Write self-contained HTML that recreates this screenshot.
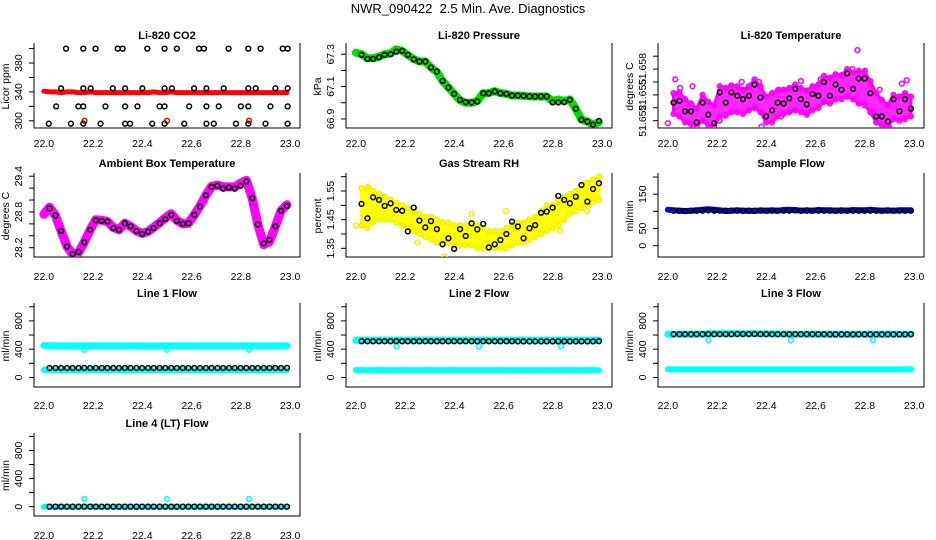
<!DOCTYPE html>
<html><head><meta charset="utf-8"><style>
html,body{margin:0;padding:0;background:#fff;}
svg{display:block;font-family:"Liberation Sans",Arial,sans-serif;}
</style></head><body>
<svg id="chart" width="936" height="540" viewBox="0 0 936 540" xmlns="http://www.w3.org/2000/svg">
<rect x="0" y="0" width="936" height="540" fill="#fff"/>
<text x="468" y="13" text-anchor="middle" font-size="13" xml:space="preserve" style="white-space:pre">NWR_090422  2.5 Min. Ave. Diagnostics</text>
</svg>
<script>
const xTicks=[22.0,22.2,22.4,22.6,22.8,23.0];
const xTickLabels=["22.0","22.2","22.4","22.6","22.8","23.0"];
const blackX=[22.023,22.047,22.070,22.094,22.117,22.141,22.164,22.188,22.211,22.235,22.258,22.282,22.305,22.329,22.352,22.376,22.399,22.423,22.446,22.470,22.493,22.517,22.540,22.564,22.587,22.611,22.634,22.658,22.681,22.705,22.728,22.752,22.775,22.799,22.822,22.846,22.869,22.893,22.916,22.940,22.963,22.987];
const bandX=[22.0].concat(blackX);
const outlierX=[22.165,22.5,22.833];

// CO2
const co2BlackX=[22.09,22.16,22.21,22.30,22.32,22.42,22.49,22.54,22.63,22.65,22.75,22.83,22.88,22.97,22.99,22.07,22.16,22.19,22.28,22.33,22.40,22.49,22.52,22.61,22.66,22.73,22.83,22.86,22.94,22.99,22.05,22.14,22.16,22.25,22.33,22.38,22.47,22.49,22.59,22.66,22.71,22.80,22.83,22.92,22.99,22.02,22.11,22.16,22.23,22.33,22.35,22.44,22.49,22.57,22.66,22.69,22.78,22.83,22.90,22.99];
const co2BlackY=[400,400,400,400,400,400,400,400,400,400,400,400,400,400,400,345,345,345,345,345,345,345,345,345,345,345,345,345,345,345,320,320,320,320,320,320,320,320,320,320,320,320,320,320,320,296,296,296,296,296,296,296,296,296,296,296,296,296,296,296];
const co2Red=[341,340,340,339,340,340,339,339,340,339,339,339,339,339,339,339,339,339,339,340,339,339,340,339,339,339,339,339,339,339,339,339,339,339,339,339,339,339,339,339,339,339,339];
const co2RedOut=[300,300,300];
// Pressure
const pressBlack=[67.296,67.271,67.271,67.281,67.296,67.300,67.316,67.321,67.296,67.269,67.255,67.255,67.218,67.193,67.135,67.094,67.055,67.018,67.004,67.002,67.008,67.059,67.059,67.070,67.059,67.055,67.045,67.045,67.043,67.039,67.039,67.039,67.039,67.002,67.002,67.004,67.018,66.963,66.895,66.884,66.864,66.888];
const pressGreen=[67.310,67.300,67.275,67.275,67.285,67.300,67.305,67.330,67.320,67.296,67.270,67.255,67.255,67.218,67.190,67.135,67.094,67.055,67.015,67.000,67.000,67.010,67.059,67.060,67.072,67.060,67.055,67.045,67.045,67.043,67.040,67.039,67.039,67.039,67.010,67.020,67.010,67.020,66.963,66.895,66.884,66.864,66.880];
// Temperature
const tempBlack=[51.6541,51.6543,51.6531,51.6531,51.6518,51.6541,51.6527,51.6517,51.6553,51.6541,51.6553,51.6549,51.6545,51.6549,51.6562,51.6547,51.6525,51.6532,51.6541,51.6540,51.6546,51.6557,51.6545,51.6539,51.6551,51.6549,51.6565,51.6549,51.6562,51.6556,51.6575,51.6557,51.6569,51.6569,51.6552,51.6525,51.6525,51.6519,51.6545,51.6531,51.6545,51.6534];
const tempHi=[51.6552,51.6553,51.6545,51.6540,51.6534,51.6550,51.6542,51.6538,51.6560,51.6558,51.6561,51.6560,51.6556,51.6560,51.6568,51.6560,51.6548,51.6552,51.6555,51.6556,51.6558,51.6562,51.6558,51.6555,51.6560,51.6562,51.6572,51.6570,51.6574,51.6573,51.6580,51.6576,51.6578,51.6577,51.6566,51.6552,51.6544,51.6538,51.6550,51.6548,51.6552,51.6548];
const tempLo=[51.6528,51.6525,51.6518,51.6516,51.6514,51.6520,51.6515,51.6514,51.6525,51.6526,51.6530,51.6530,51.6528,51.6532,51.6535,51.6530,51.6518,51.6518,51.6525,51.6528,51.6530,51.6532,51.6530,51.6527,51.6532,51.6535,51.6542,51.6540,51.6545,51.6545,51.6548,51.6545,51.6540,51.6538,51.6530,51.6518,51.6515,51.6513,51.6522,51.6520,51.6522,51.6525];
const tempOutX=[22.03,22.0,22.05,22.10,22.21,22.30,22.37,22.46,22.54,22.62,22.71,22.77,22.75,22.80,22.95,22.97,22.90,22.38,22.45,22.86];
const tempOutY=[51.6568,51.6517,51.6558,51.6560,51.6520,51.6565,51.6565,51.6525,51.6566,51.6568,51.6572,51.6602,51.6580,51.6578,51.6563,51.6567,51.6512,51.6513,51.6556,51.6556];
// Ambient
const ambBlack=[28.86,28.74,28.48,28.22,28.09,28.13,28.29,28.50,28.66,28.65,28.64,28.53,28.50,28.61,28.56,28.48,28.43,28.47,28.53,28.61,28.68,28.75,28.65,28.60,28.61,28.75,28.89,29.08,29.22,29.24,29.19,29.21,29.19,29.24,29.31,29.03,28.59,28.27,28.33,28.56,28.82,28.90];
const ambMag=[28.76,28.88,28.74,28.48,28.22,28.09,28.12,28.29,28.50,28.67,28.66,28.64,28.54,28.50,28.61,28.56,28.48,28.44,28.47,28.54,28.62,28.70,28.77,28.66,28.60,28.61,28.75,28.90,29.08,29.23,29.25,29.22,29.22,29.22,29.28,29.33,29.03,28.59,28.25,28.30,28.56,28.82,28.92];
// Gas RH
const gasBlack=[1.505,1.455,1.528,1.519,1.498,1.507,1.484,1.481,1.409,1.492,1.447,1.423,1.445,1.417,1.364,1.385,1.348,1.417,1.393,1.437,1.416,1.435,1.353,1.364,1.379,1.400,1.443,1.426,1.385,1.420,1.431,1.474,1.478,1.492,1.533,1.519,1.507,1.530,1.571,1.513,1.557,1.577];
const gasHi=[1.56,1.56,1.55,1.54,1.53,1.52,1.51,1.50,1.49,1.48,1.47,1.46,1.46,1.45,1.44,1.44,1.43,1.43,1.43,1.44,1.43,1.42,1.41,1.41,1.41,1.42,1.43,1.44,1.44,1.45,1.46,1.48,1.50,1.50,1.52,1.53,1.54,1.55,1.57,1.58,1.59,1.60];
const gasLo=[1.43,1.42,1.44,1.45,1.45,1.45,1.44,1.43,1.42,1.41,1.40,1.39,1.38,1.37,1.37,1.37,1.36,1.36,1.36,1.36,1.35,1.35,1.35,1.35,1.35,1.35,1.36,1.37,1.37,1.38,1.39,1.40,1.41,1.42,1.43,1.45,1.47,1.48,1.49,1.50,1.51,1.52];
const gasOutX=[22.36,22.05,22.25,22.94,22.83,22.61,22.47,22.0];
const gasOutY=[1.322,1.565,1.37,1.48,1.41,1.48,1.47,1.43];
// Sample flow
const sampBlack=[102,102,101,102,102,102,103,102,102,102,102,102,102,102,102,102,102,102,102,102,102,103,102,102,102,102,102,102,102,102,102,102,102,102,102,102,102,102,102,102,102,102];
const sampBlue=[105,103,102,101,102,103,105,106,105,103,101,102,103,102,102,101,103,102,103,102,104,105,104,102,103,102,104,103,103,102,103,102,104,103,103,105,103,102,103,102,103,103,103];
// Line flows
const l1Black=[134,134,134,134,134,134,135,134,134,134,134,134,134,134,134,134,134,134,134,134,134,134,134,134,134,134,134,134,134,134,134,134,134,134,134,134,134,134,134,134,134,135];
const l1CyanHi=[450,448,447,446,446,445,445,447,448,447,446,446,446,447,447,446,446,445,445,445,446,446,446,447,447,446,446,446,446,446,447,447,446,446,446,446,446,446,446,446,446,447,447];
const l1CyanLo=[105,104,103,103,104,104,103,103,104,104,103,103,104,104,103,103,104,104,103,103,104,104,103,103,104,104,103,103,104,104,103,103,104,104,103,103,104,104,103,103,104,104,103];
const l1Out=[392,392,392];
const l2Black=[512,512,512,512,512,512,514,512,512,512,512,512,512,512,512,512,512,512,512,512,512,512,512,512,512,512,512,510,510,510,510,510,510,510,510,510,510,510,510,510,510,512];
const l2CyanHi=[527,525,525,526,526,527,526,527,526,525,525,526,526,527,527,526,525,525,526,526,527,527,526,526,525,525,526,526,525,525,525,525,526,525,525,525,524,525,525,525,524,525,525];
const l2CyanLo=[104,104,103,103,104,104,103,103,104,104,103,103,104,104,103,103,104,104,103,103,104,104,103,103,104,104,103,103,104,104,103,103,104,104,103,103,104,104,103,103,104,104,103];
const l2Out=[440,440,440];
const l3Black=[612,612,612,612,612,612,614,612,612,612,612,614,614,614,614,612,612,612,612,612,612,612,612,612,612,612,612,610,610,610,610,610,610,610,610,610,610,610,610,610,610,612];
const l3CyanHi=[612,612,613,612,612,613,612,618,620,620,620,620,620,618,620,620,618,618,618,615,615,614,614,614,614,614,612,612,612,612,612,612,612,612,612,612,612,612,612,612,612,612,612];
const l3CyanLo=[116,116,115,115,116,116,115,115,116,116,115,115,116,116,115,115,116,116,115,115,116,116,115,115,116,116,115,115,116,116,115,115,116,116,115,115,116,116,115,115,116,116,115];
const l3Out=[527,527,527];
const l4Black=[0,0,0,0,0,0,0,0,0,0,0,0,0,0,0,0,0,0,0,0,0,0,0,0,0,0,0,0,0,0,0,0,0,0,0,0,0,0,0,0,0,0];
const l4Cyan=[0,0,0,0,0,0,0,0,0,0,0,0,0,0,0,0,0,0,0,0,0,0,0,0,0,0,0,0,0,0,0,0,0,0,0,0,0,0,0,0,0,0,0];
const l4Out=[110,110,110];

const NS="http://www.w3.org/2000/svg";
const svg=document.getElementById('chart');
const rowTop=[45,175,305,435],rowBot=[128,257,387,516],rowLab=[143,276,405,535],rowTit=[35,163,293,423];
function mk(tag,attrs,parent){const e=document.createElementNS(NS,tag);for(const k in attrs)e.setAttribute(k,attrs[k]);(parent||svg).appendChild(e);return e;}

function panel(name,col,row,title,ylab,ylim,yt,ytl){
  const g=mk('g',{});
  
  
  const L=34+312*col,R=300+312*col,T=rowTop[row],B=rowBot[row];
  const sx=v=>L+(v-21.96)/(23.04-21.96)*(R-L);
  const sy=v=>B-(v-ylim[0])/(ylim[1]-ylim[0])*(B-T);
  const t=mk('text',{x:(L+R)/2,y:rowTit[row]+4,'text-anchor':'middle','font-size':11,'font-weight':'bold'},g);
  t.textContent=title;
  
  
  const ax=mk('path',{d:`M${L},${T-2}V${B}H${R}V${T-2}`,fill:'none',stroke:'#000','stroke-width':1},g);
  
  
  xTicks.forEach((v,i)=>{
    const tx=mk('text',{x:sx(v),y:rowLab[row]+4,'text-anchor':'middle','font-size':10.5},g);
    tx.textContent=xTickLabels[i];
    
    
  });
  yt.forEach((v,i)=>{
    const y=sy(v);
    const tk=mk('line',{x1:L-5,x2:L,y1:y,y2:y,stroke:'#000'},g);
    
    
    if(ytl[i]){
      const tl=mk('text',{x:L-12,y:y,'text-anchor':'middle','font-size':10.5,transform:`rotate(-90 ${L-12} ${y})`},g);
      tl.textContent=ytl[i];
      
      
    }
  });
  const yc=(T+B)/2;
  const yl=mk('text',{x:L-25,y:yc,'text-anchor':'middle','font-size':10.5,transform:`rotate(-90 ${L-25} ${yc})`},g);
  yl.textContent=ylab;
  
  
  const cl=mk('clipPath',{id:'clip'+name},g);
  mk('rect',{x:L,y:T-6,width:R-L,height:B-T+6},cl);
  const d=mk('g',{'clip-path':`url(#clip${name})`},g);
  return {sx,sy,g:d};
}
function circles(p,xs,ys,color,nm,r){
  xs.forEach((x,i)=>{
    const c=mk('circle',{cx:p.sx(x),cy:p.sy(ys[i]),r:r||2.4,fill:'none',stroke:color,'stroke-width':1.5},p.g);
    
    
  });
}
function band(p,xs,ys,color,w,nm){
  const pts=xs.map((x,i)=>p.sx(x).toFixed(1)+','+p.sy(ys[i]).toFixed(1)).join(' ');
  const l=mk('polyline',{points:pts,fill:'none',stroke:color,'stroke-width':w,'stroke-linejoin':'round','stroke-linecap':'round'},p.g);
  
  
}
function area(p,xs,hi,lo,color,nm,op){
  const a=xs.map((x,i)=>p.sx(x).toFixed(1)+','+p.sy(hi[i]).toFixed(1));
  const b=xs.map((x,i)=>p.sx(x).toFixed(1)+','+p.sy(lo[i]).toFixed(1)).reverse();
  const pg=mk('polygon',{points:a.concat(b).join(' '),fill:color,'fill-opacity':op||1,stroke:color,'stroke-width':3,'stroke-linejoin':'round'},p.g);
  
  
}
const flowT=[0,200,400,600,800,1000],flowL=["0","","400","","800",""];

let p=panel('co2',0,0,'Li-820 CO2','Licor ppm',[290,405],[300,320,340,360,380,400],["300","","340","","380",""]);
band(p,bandX,co2Red,'#ff0000',5,'co2-red-series');
circles(p,outlierX,co2RedOut,'#ff0000','co2-red-outlier');
circles(p,co2BlackX,co2BlackY,'#000','co2-black-point');

p=panel('pressure',1,0,'Li-820 Pressure','kPa',[66.844,67.357],[66.9,67.0,67.1,67.2,67.3],["66.9","","67.1","","67.3"]);
band(p,bandX,pressGreen,'#00dd00',8,'pressure-green-series');
circles(p,blackX,pressBlack,'#000','pressure-black-point');

p=panel('temperature',2,0,'Li-820 Temperature','degrees C',[51.65115,51.6608],[51.652,51.6535,51.655,51.6565,51.658,51.6595],["51.652","","51.655","","51.658",""]);
area(p,blackX,tempHi,tempLo,'#ff00ff','temperature-magenta-cloud',0.85);
circles(p,blackX,tempHi,'#ff00ff','temperature-magenta-point');
circles(p,blackX,tempLo,'#ff00ff','temperature-magenta-point');
circles(p,tempOutX,tempOutY,'#ff00ff','temperature-magenta-point');
circles(p,blackX,tempBlack,'#000','temperature-black-point');

p=panel('ambient',0,1,'Ambient Box Temperature','degrees C',[28.044,29.42],[28.2,28.4,28.6,28.8,29.0,29.2,29.4],["28.2","","","28.8","","","29.4"]);
band(p,bandX,ambMag,'#ff00ff',9,'ambient-magenta-series');
circles(p,blackX,ambBlack,'#000','ambient-black-point');

p=panel('gasrh',1,1,'Gas Stream RH','percent',[1.3197,1.6058],[1.35,1.40,1.45,1.50,1.55,1.60],["1.35","","1.45","","1.55",""]);
area(p,blackX,gasHi,gasLo,'#ffff00','gasrh-yellow-cloud');
circles(p,blackX,gasHi,'#f0f000','gasrh-yellow-point');
circles(p,blackX,gasLo,'#f0f000','gasrh-yellow-point');
circles(p,gasOutX,gasOutY,'#f0f000','gasrh-yellow-point');
circles(p,blackX,gasBlack,'#000','gasrh-black-point');

p=panel('sampleflow',2,1,'Sample Flow','ml/min',[-33,206],[0,50,100,150,200],["0","50","","150",""]);
band(p,bandX,sampBlue,'#0000ff',6,'sampleflow-blue-series');
circles(p,blackX,sampBlack,'#000','sampleflow-black-point');

p=panel('line1',0,2,'Line 1 Flow','ml/min',[-135,1025],flowT,flowL);
band(p,bandX,l1CyanHi,'#00ffff',7,'line1-cyan-upper');
band(p,bandX,l1CyanLo,'#00ffff',6,'line1-cyan-lower');
circles(p,outlierX,l1Out,'#00ffff','line1-cyan-outlier');
circles(p,blackX,l1Black,'#000','line1-black-point');

p=panel('line2',1,2,'Line 2 Flow','ml/min',[-135,1025],flowT,flowL);
band(p,bandX,l2CyanHi,'#00ffff',7,'line2-cyan-upper');
band(p,bandX,l2CyanLo,'#00ffff',6,'line2-cyan-lower');
circles(p,outlierX,l2Out,'#00ffff','line2-cyan-outlier');
circles(p,blackX,l2Black,'#000','line2-black-point');

p=panel('line3',2,2,'Line 3 Flow','ml/min',[-135,1025],flowT,flowL);
band(p,bandX,l3CyanHi,'#00ffff',7,'line3-cyan-upper');
band(p,bandX,l3CyanLo,'#00ffff',6,'line3-cyan-lower');
circles(p,outlierX,l3Out,'#00ffff','line3-cyan-outlier');
circles(p,blackX,l3Black,'#000','line3-black-point');

p=panel('line4',0,3,'Line 4 (LT) Flow','ml/min',[-133,1020],flowT,flowL);
band(p,bandX,l4Cyan,'#00ffff',6,'line4-cyan-series');
circles(p,outlierX,l4Out,'#00ffff','line4-cyan-outlier');
circles(p,blackX,l4Black,'#000','line4-black-point');
</script>
</body></html>
